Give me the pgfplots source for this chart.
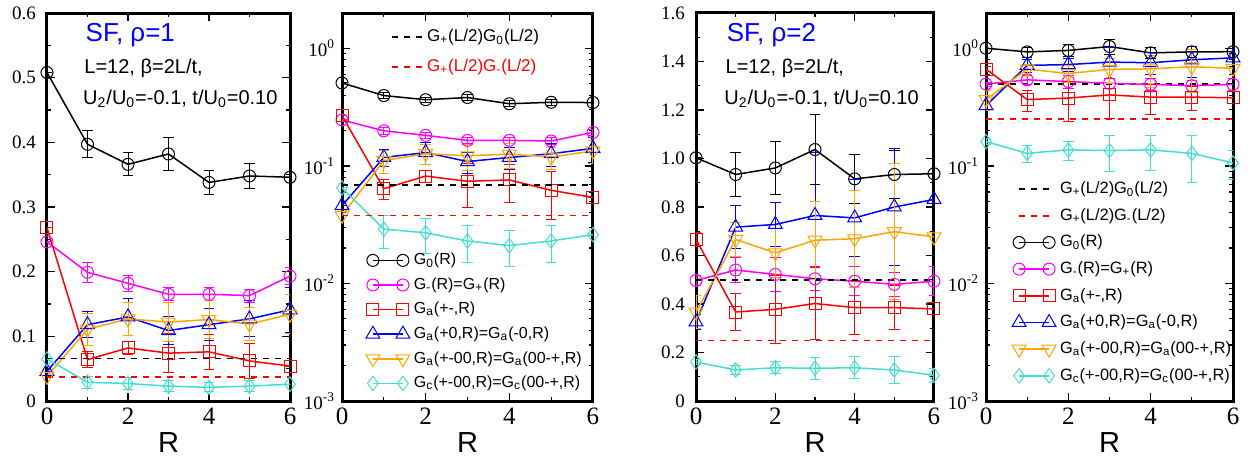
\documentclass[border=0pt]{standalone}
\usepackage{fontspec}
\setmainfont{Liberation Sans}
\newfontfamily\tickfont{Liberation Serif}
\usepackage{pgfplots}
\pgfplotsset{compat=1.18}
\usepackage{pgfplotstable}

\definecolor{cyanx}{HTML}{40E0D0}
\definecolor{orangex}{HTML}{FFA500}
\definecolor{magx}{HTML}{FF00FF}
\definecolor{redx}{HTML}{FF0000}

% rho = 1
\pgfplotstableread{
R g0 eg0 gm egm ga ega gb egb gc egc gd egd
0 0.508 0.000 0.246 0.000 0.268 0.000 0.046 0.000 0.038 0.000 0.065 0.000
1 0.397 0.021 0.199 0.015 0.064 0.012 0.118 0.020 0.111 0.025 0.029 0.009
2 0.366 0.018 0.182 0.012 0.082 0.010 0.130 0.028 0.127 0.025 0.027 0.009
3 0.382 0.025 0.165 0.010 0.074 0.030 0.109 0.022 0.122 0.030 0.023 0.008
4 0.338 0.019 0.165 0.010 0.076 0.027 0.118 0.025 0.126 0.030 0.021 0.007
5 0.348 0.019 0.163 0.010 0.062 0.027 0.127 0.028 0.119 0.025 0.023 0.008
6 0.346 0.000 0.193 0.013 0.054 0.000 0.141 0.035 0.134 0.030 0.026 0.000
}\rhoone
% rho = 2
\pgfplotstableread{
R g0 eg0 gm egm ga ega gb egb gc egc gd egd
0 1.003 0.000 0.497 0.020 0.666 0.030 0.326 0.030 0.367 0.070 0.161 0.010
1 0.934 0.090 0.540 0.050 0.367 0.075 0.717 0.090 0.666 0.070 0.128 0.020
2 0.961 0.110 0.522 0.070 0.378 0.140 0.728 0.090 0.611 0.100 0.137 0.025
3 1.037 0.145 0.504 0.050 0.402 0.150 0.765 0.260 0.663 0.160 0.135 0.045
4 0.916 0.100 0.494 0.060 0.385 0.110 0.755 0.160 0.669 0.200 0.137 0.045
5 0.934 0.100 0.481 0.050 0.385 0.090 0.800 0.240 0.698 0.280 0.128 0.055
6 0.937 0.000 0.494 0.060 0.380 0.000 0.831 0.000 0.677 0.000 0.106 0.030
}\rhotwo

\pgfplotsset{
  panel/.style={
    scale only axis, height=194pt, anchor=south west,
    xmin=0, xmax=6, xtick={0,2,4,6}, xticklabels={0,2,4,6}, minor xtick={1,3,5},
    axis line style={line width=1.5pt},
    tick align=inside, major tick length=4pt, minor tick length=2pt,
    every tick/.style={black, line width=0.6pt},
    xticklabel style={font=\tickfont\fontsize{12.5}{14}\selectfont},
    yticklabel style={font=\tickfont\fontsize{9.5}{11}\selectfont},
    xlabel={R},
    xlabel style={font=\fontsize{14.5}{16}\selectfont, at={(axis description cs:0.5,0)}, anchor=center, yshift=-21pt},
    legend image code/.code={\draw[##1] plot coordinates {(0pt,0pt) (15pt,0pt)};},
    legend style={draw=none, fill=none, font=\fontsize{8}{9.5}\selectfont, row sep=1pt},
    legend cell align=left,
    error bars/error bar style={line width=0.5pt},
    error bars/error mark options={rotate=90, mark size=2.6pt, line width=0.5pt},
  },
  eb/.style={error bars/y dir=both, error bars/y explicit},
  s0/.style={black, line width=0.75pt, mark=o, mark size=3pt, mark options={solid, line width=0.5pt}},
  s1/.style={magx, line width=0.75pt, mark=o, mark size=3pt, mark options={solid, line width=0.5pt}},
  s2/.style={redx, line width=0.75pt, mark=square, mark size=3pt, mark options={solid, line width=0.5pt}},
  s3/.style={blue, line width=0.75pt, mark=triangle, mark size=4pt, mark options={solid, line width=0.5pt}},
  s4/.style={orangex, line width=0.75pt, mark=triangle, mark size=4pt, mark options={solid, line width=0.5pt, rotate=180}},
  s5/.style={cyanx, line width=0.75pt, mark=diamond, mark size=3.6pt, mark options={solid, line width=0.5pt}},
  dk/.style={black, dashed, line width=0.75pt},
  dr/.style={redx, dashed, line width=0.75pt},
}

\newcommand{\allseries}[1]{%
  \addplot[s0, eb] table[x=R, y=g0, y error=eg0] {#1};
  \addlegendentry{G\textsubscript{0}(R)}
  \addplot[s1, eb] table[x=R, y=gm, y error=egm] {#1};
  \addlegendentry{G\textsubscript{-}(R)=G\textsubscript{+}(R)}
  \addplot[s2, eb] table[x=R, y=ga, y error=ega] {#1};
  \addlegendentry{G\textsubscript{a}(+-,R)}
  \addplot[s3, eb] table[x=R, y=gb, y error=egb] {#1};
  \addlegendentry{G\textsubscript{a}(+0,R)=G\textsubscript{a}(-0,R)}
  \addplot[s4, eb] table[x=R, y=gc, y error=egc] {#1};
  \addlegendentry{G\textsubscript{a}(+-00,R)=G\textsubscript{a}(00-+,R)}
  \addplot[s5, eb] table[x=R, y=gd, y error=egd] {#1};
  \addlegendentry{G\textsubscript{c}(+-00,R)=G\textsubscript{c}(00-+,R)}
}

\begin{document}
\begin{tikzpicture}
\useasboundingbox (0pt,0pt) rectangle (628pt,-232pt);

% ---------- Panel 1: rho=1 linear ----------
\begin{axis}[panel, at={(23.5pt,-200.5pt)}, width=121.5pt,
  ymin=0, ymax=0.6, ytick={0,0.1,0.2,0.3,0.4,0.5,0.6},
  yticklabels={0,0.1,0.2,0.3,0.4,0.5,0.6}, minor y tick num=1,
  yticklabel style={xshift=-2pt}]
  \allseries{\rhoone}
  \addplot[dk] coordinates {(0,0.066) (6,0.066)};
  \addplot[dr] coordinates {(0,0.037) (6,0.037)};
  \legend{}
  \node[anchor=west, font=\fontsize{13}{15}\selectfont, text=blue] at (axis description cs:0.13,0.943) {SF, ρ=1};
  \node[anchor=west, font=\fontsize{10}{12}\selectfont] at (axis description cs:0.125,0.858) {L=12, β=2L/t,};
  \node[anchor=west, font=\fontsize{10}{12}\selectfont] at (axis description cs:0.12,0.78) {U\textsubscript{2}/U\textsubscript{0}=-0.1, t/U\textsubscript{0}=0.10};
\end{axis}

% ---------- Panel 2: rho=1 log ----------
\begin{axis}[panel, at={(171pt,-200.5pt)}, width=125.5pt,
  ymode=log, ymin=1e-3, ymax=2, ytick={1e-3,1e-2,1e-1,1},
  yticklabels={10\textsuperscript{-3},10\textsuperscript{-2},10\textsuperscript{-1},10\textsuperscript{0}},
  legend style={at={(axis description cs:0.07,0.005)}, anchor=south west}]
  \allseries{\rhoone}
\end{axis}
\begin{axis}[panel, at={(171pt,-200.5pt)}, width=125.5pt, hide axis,
  ymode=log, ymin=1e-3, ymax=2,
  legend style={at={(axis description cs:0.17,0.98)}, anchor=north west, row sep=3.5pt, font=\fontsize{8.5}{10}\selectfont}]
  \addplot[black, dashed, line width=1pt] coordinates {(0,0.069) (6,0.069)};
  \addlegendentry{G\textsubscript{+}(L/2)G\textsubscript{0}(L/2)}
  \addplot[dr] coordinates {(0,0.038) (6,0.038)};
  \addlegendentry{\textcolor{redx}{G\textsubscript{+}(L/2)G\textsubscript{-}(L/2)}}
\end{axis}

% ---------- Panel 3: rho=2 linear ----------
\begin{axis}[panel, at={(348pt,-200.5pt)}, width=119pt,
  ymin=0, ymax=1.6, ytick={0,0.2,0.4,0.6,0.8,1.0,1.2,1.4,1.6},
  yticklabels={0,0.2,0.4,0.6,0.8,1.0,1.2,1.4,1.6}, minor y tick num=1,
  yticklabel style={xshift=-2pt}]
  \allseries{\rhotwo}
  \addplot[dk] coordinates {(0,0.5) (6,0.5)};
  \addplot[dr] coordinates {(0,0.25) (6,0.25)};
  \legend{}
  \node[anchor=west, font=\fontsize{13}{15}\selectfont, text=blue] at (axis description cs:0.1,0.943) {SF, ρ=2};
  \node[anchor=west, font=\fontsize{10}{12}\selectfont] at (axis description cs:0.095,0.858) {L=12, β=2L/t,};
  \node[anchor=west, font=\fontsize{10}{12}\selectfont] at (axis description cs:0.09,0.78) {U\textsubscript{2}/U\textsubscript{0}=-0.1, t/U\textsubscript{0}=0.10};
\end{axis}

% ---------- Panel 4: rho=2 log ----------
\begin{axis}[panel, at={(493pt,-200.5pt)}, width=123.5pt,
  ymode=log, ymin=1e-3, ymax=2, ytick={1e-3,1e-2,1e-1,1},
  yticklabels={10\textsuperscript{-3},10\textsuperscript{-2},10\textsuperscript{-1},10\textsuperscript{0}},
  legend style={at={(axis description cs:0.08,0.024)}, anchor=south west, row sep=1.9pt, font=\fontsize{8.2}{9.7}\selectfont}]
  \addplot[dk, line width=0.9pt] coordinates {(0,0.5) (6,0.5)};
  \addlegendentry{G\textsubscript{+}(L/2)G\textsubscript{0}(L/2)}
  \addplot[dr] coordinates {(0,0.25) (6,0.25)};
  \addlegendentry{G\textsubscript{+}(L/2)G\textsubscript{-}(L/2)}
  \allseries{\rhotwo}
\end{axis}
\end{tikzpicture}
\end{document}
